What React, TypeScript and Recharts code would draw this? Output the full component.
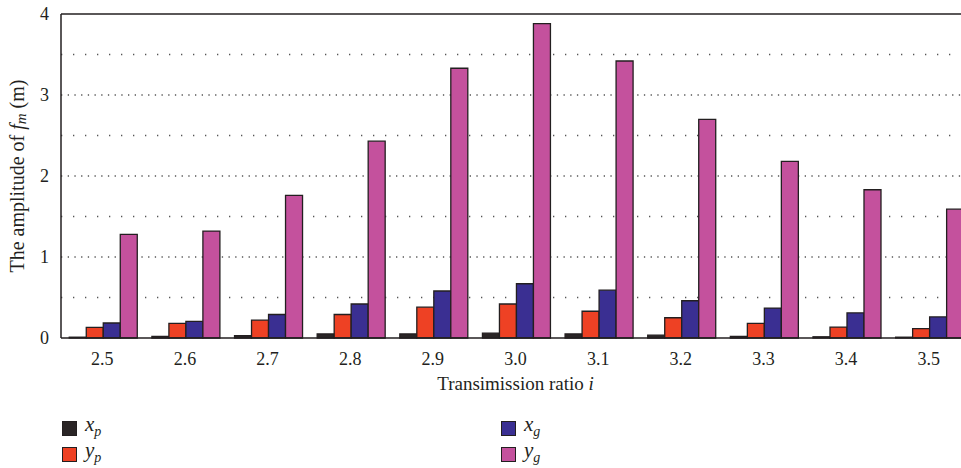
import React from "react";
import { Bar, BarChart, CartesianGrid, XAxis, YAxis } from "recharts";

const ratios = ["2.5", "2.6", "2.7", "2.8", "2.9", "3.0", "3.1", "3.2", "3.3", "3.4", "3.5"];
const xp = [0.01, 0.02, 0.03, 0.05, 0.05, 0.06, 0.05, 0.035, 0.02, 0.015, 0.01];
const yp = [0.13, 0.18, 0.22, 0.29, 0.38, 0.42, 0.33, 0.25, 0.18, 0.135, 0.115];
const xg = [0.185, 0.205, 0.29, 0.42, 0.58, 0.67, 0.59, 0.46, 0.37, 0.31, 0.26];
const yg = [1.28, 1.32, 1.76, 2.43, 3.33, 3.88, 3.42, 2.7, 2.18, 1.83, 1.59];

const yTicks = [0, 1, 2, 3, 4];
const majorGrid = [1, 2, 3];
const minorGrid = [0.5, 1.5, 2.5, 3.5];

const series = [
  { key: "xp", base: "x", sub: "p", color: "#2a2526", values: xp },
  { key: "yp", base: "y", sub: "p", color: "#ee4124", values: yp },
  { key: "xg", base: "x", sub: "g", color: "#3a2f92", values: xg },
  { key: "yg", base: "y", sub: "g", color: "#c4519d", values: yg },
];

const data = ratios.map((r, i) => {
  const row: any = { ratio: r };
  series.forEach((s) => {
    row[s.key] = s.values[i];
  });
  return row;
});

const FONT = "'Liberation Serif', 'Times New Roman', serif";
const INK = "#231f20";

const YLabel = (props: any) => {
  const { viewBox } = props;
  const cx = 17;
  const cy = viewBox.y + viewBox.height / 2;
  return (
    <text
      x={cx}
      y={cy}
      transform={`rotate(-90, ${cx}, ${cy})`}
      textAnchor="middle"
      dominantBaseline="central"
      fill={INK}
      fontSize={20}
      fontFamily={FONT}
    >
      The amplitude of{" "}
      <tspan fontStyle="italic">f</tspan>
      <tspan fontStyle="italic" fontSize={15} dy={4}>m</tspan>
      <tspan dy={-4}> (m)</tspan>
    </text>
  );
};

const XLabel = (props: any) => {
  const { viewBox } = props;
  return (
    <text
      x={viewBox.x + viewBox.width / 2}
      y={383}
      textAnchor="middle"
      dominantBaseline="central"
      fill={INK}
      fontSize={19}
      fontFamily={FONT}
    >
      Transimission ratio <tspan fontStyle="italic">i</tspan>
    </text>
  );
};

const LegendItem = ({ s, left, top }: any) => (
  <div style={{ position: "absolute", left, top, display: "flex", alignItems: "center" }}>
    <div
      style={{
        width: 13,
        height: 13,
        background: s.color,
        border: `1.5px solid ${INK}`,
      }}
    />
    <span
      style={{
        marginLeft: 8,
        fontFamily: FONT,
        fontStyle: "italic",
        fontSize: 21,
        color: INK,
        lineHeight: "16px",
      }}
    >
      {s.base}
      <sub style={{ fontSize: 14, verticalAlign: "-5px" }}>{s.sub}</sub>
    </span>
  </div>
);

export default function App() {
  return (
    <div
      style={{
        position: "absolute",
        left: 0,
        top: 0,
        width: 961,
        height: 468,
        overflow: "hidden",
        background: "#fff",
      }}
    >
      <BarChart
        width={970}
        height={468}
        data={data}
        margin={{ top: 14, right: 0, bottom: 70, left: 0 }}
        barCategoryGap="10%"
        barGap={0}
      >
        <CartesianGrid
          vertical={false}
          horizontalValues={minorGrid}
          stroke="#555"
          strokeWidth={1.3}
          strokeDasharray="1.3 10.7"
        />
        <CartesianGrid
          vertical={false}
          horizontalValues={majorGrid}
          stroke="#555"
          strokeWidth={1.3}
          strokeDasharray="1.3 5.4"
        />
        <CartesianGrid vertical={false} horizontalValues={[4]} stroke={INK} strokeWidth={1.5} />
        <XAxis
          dataKey="ratio"
          height={60}
          tickLine={false}
          axisLine={{ stroke: INK, strokeWidth: 1.5 }}
          tick={{ fill: INK, fontSize: 18, fontFamily: FONT }}
          tickMargin={8}
          label={<XLabel />}
        />
        <YAxis
          width={61}
          domain={[0, 4]}
          ticks={yTicks}
          tickLine={false}
          axisLine={{ stroke: INK, strokeWidth: 1.5 }}
          tick={{ fill: INK, fontSize: 18, fontFamily: FONT }}
          tickMargin={6}
          label={<YLabel />}
        />
        {series.map((s) => (
          <Bar
            key={s.key}
            dataKey={s.key}
            fill={s.color}
            stroke={INK}
            strokeWidth={1.3}
            isAnimationActive={false}
          />
        ))}
      </BarChart>
      <LegendItem s={series[0]} left={62} top={416} />
      <LegendItem s={series[1]} left={62} top={442} />
      <LegendItem s={series[2]} left={501} top={416} />
      <LegendItem s={series[3]} left={501} top={442} />
    </div>
  );
}
